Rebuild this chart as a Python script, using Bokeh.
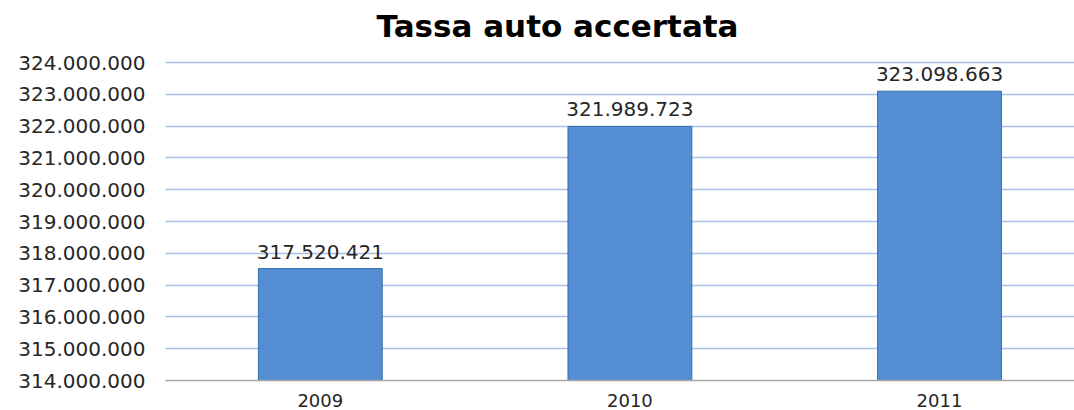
from bokeh.plotting import figure
from bokeh.models import ColumnDataSource, FixedTicker, Range1d, Label
from bokeh.embed import file_html
from bokeh.resources import INLINE
from bokeh.core.properties import value

title_text = "Tassa auto accertata"
categories = ["2009", "2010", "2011"]
values = [317520421, 321989723, 323098663]
y_ticks = [314000000, 315000000, 316000000, 317000000, 318000000, 319000000,
           320000000, 321000000, 322000000, 323000000, 324000000]
y_tick_labels = ["314.000.000", "315.000.000", "316.000.000", "317.000.000", "318.000.000",
                 "319.000.000", "320.000.000", "321.000.000", "322.000.000", "323.000.000",
                 "324.000.000"]

xs = list(range(1, len(categories) + 1))
labels = [f"{v:,}".replace(",", ".") for v in values]
src = ColumnDataSource(dict(x=xs, top=values, label=labels))

FONT = "DejaVu Sans"
H, W = 410, 1074
BB, BL = 30, 165
TOP_PAD_PX = 62          # space above the 324M gridline, kept inside the frame
FH = H - BB              # frame height (frame reaches the top of the canvas)
AXIS_PX = FH - TOP_PAD_PX
y0, y1 = y_ticks[0], y_ticks[-1]
y_end = y1 + TOP_PAD_PX * (y1 - y0) / AXIS_PX

p = figure(width=W, height=H, output_backend="svg", toolbar_location=None,
           x_range=Range1d(0.5, 3.436), y_range=Range1d(y0, y_end),
           min_border_left=BL, min_border_right=0, min_border_top=0, min_border_bottom=BB)

p.vbar(x="x", top="top", bottom=y0, width=0.4, source=src,
       fill_color="#558ED5", line_color="#3A6EA5", line_width=1)

p.text(x="x", y="top", text="label", source=src, text_align="center",
       text_baseline="bottom", y_offset=-10, text_font=value(FONT),
       text_font_size="20px", text_color="#262626")

p.add_layout(Label(x=211, y=FH - 25, x_units="screen", y_units="screen",
                   text=title_text, text_font=FONT, text_font_size="31px",
                   text_font_style="bold", text_color="#000000",
                   text_align="left", text_baseline="alphabetic"))

p.yaxis.ticker = FixedTicker(ticks=y_ticks)
p.yaxis.major_label_overrides = {t: l for t, l in zip(y_ticks, y_tick_labels)}
p.xaxis.ticker = FixedTicker(ticks=xs)
p.xaxis.major_label_overrides = {x: c for x, c in zip(xs, categories)}

for ax in (p.xaxis[0], p.yaxis[0]):
    ax.major_label_text_font = FONT
    ax.major_label_text_color = "#262626"
    ax.major_tick_line_color = None
    ax.minor_tick_line_color = None

p.yaxis.major_label_text_font_size = "20px"
p.xaxis.major_label_text_font_size = "18px"
p.yaxis.axis_line_color = None
p.yaxis.major_label_standoff = 14
p.xaxis.axis_line_color = "#A6A6A6"
p.xaxis.axis_line_width = 1.5
p.xaxis.major_label_standoff = 7

p.xgrid.grid_line_color = None
p.ygrid.grid_line_color = "#A9BFE6"
p.ygrid.grid_line_width = 1.5

p.outline_line_color = None
p.background_fill_color = "white"
p.border_fill_color = "white"

open("out.html", "w").write(file_html(p, INLINE))
